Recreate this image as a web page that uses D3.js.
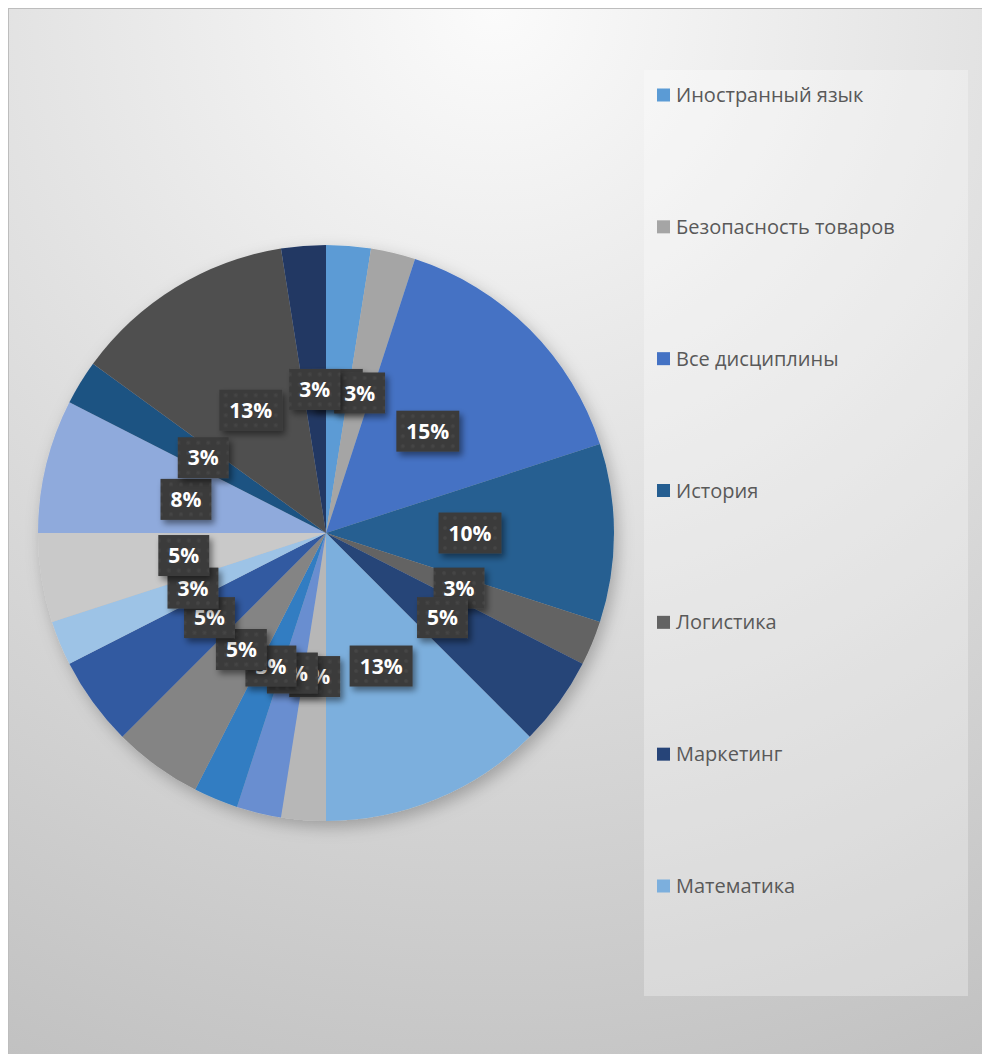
<!DOCTYPE html>
<html>
<head>
<meta charset="utf-8">
<script src="https://cdn.jsdelivr.net/npm/d3@7"></script>
<style>
  html, body { margin: 0; padding: 0; background: #fff; }
  svg { display: block; }
</style>
</head>
<body>
<div id="chart"></div>
<script>
// Disciplines (legend order = slice order, clockwise from 12 o'clock)
const disciplines = [
    "Иностранный язык", "Безопасность товаров", "Все дисциплины", "История",
    "Логистика", "Маркетинг", "Математика", "Менеджмент", "Метрология",
    "Налоги", "Обществознание", "Право", "Психология", "Русский язык",
    "Статистика", "Товароведение", "Физическая культура", "Экономика"
];
// counts per discipline (40 in total)
const counts = [1, 1, 6, 4, 1, 2, 5, 1, 1, 1, 2, 2, 1, 2, 3, 1, 5, 1];
const sliceColors = [
    "#5B9BD5", "#A5A5A5", "#4472C4", "#255E91", "#636363", "#264478",
    "#7CAFDD", "#B7B7B7", "#698ED0", "#327DC2", "#848484", "#335AA1",
    "#9DC3E6", "#C9C9C9", "#8FAADC", "#1F5282", "#505050", "#203864"
];
// only the first entries fit in the legend box
const legendShown = 7;

const width = 982, height = 1054;
const cx = 326, cy = 533, radius = 288;

const data = disciplines.map((name, i) => ({ name: name, value: counts[i], color: sliceColors[i] }));
const total = d3.sum(counts);

const svg = d3.select("#chart").append("svg")
    .attr("width", width)
    .attr("height", height);

const defs = svg.append("defs");

// background: radial, light at the top centre
const bg = defs.append("radialGradient")
    .attr("id", "bgGrad")
    .attr("gradientUnits", "userSpaceOnUse")
    .attr("cx", 495).attr("cy", 8).attr("r", 1160);
bg.append("stop").attr("offset", "0%").attr("stop-color", "#fbfbfb");
bg.append("stop").attr("offset", "100%").attr("stop-color", "#c1c1c1");

// dotted texture of the label boxes
const pat = defs.append("pattern")
    .attr("id", "dots")
    .attr("patternUnits", "userSpaceOnUse")
    .attr("width", 10).attr("height", 10);
pat.append("rect").attr("width", 10).attr("height", 10).attr("fill", "#3b3b3b");
pat.append("circle").attr("cx", 5).attr("cy", 5).attr("r", 2).attr("fill", "#444444");

const lblShadow = defs.append("filter").attr("id", "lblShadow")
    .attr("x", "-30%").attr("y", "-30%").attr("width", "170%").attr("height", "170%");
lblShadow.append("feDropShadow")
    .attr("dx", 3).attr("dy", 4).attr("stdDeviation", 3)
    .attr("flood-color", "#000").attr("flood-opacity", 0.45);

const pieShadow = defs.append("filter").attr("id", "pieShadow")
    .attr("x", "-20%").attr("y", "-20%").attr("width", "140%").attr("height", "140%");
pieShadow.append("feDropShadow")
    .attr("dx", 4).attr("dy", 6).attr("stdDeviation", 8)
    .attr("flood-color", "#000").attr("flood-opacity", 0.25);

// chart area
svg.append("rect")
    .attr("x", 8.5).attr("y", 8.5)
    .attr("width", width).attr("height", height)
    .attr("fill", "url(#bgGrad)")
    .attr("stroke", "#bdbdbd")
    .attr("stroke-width", 1);

// legend box
svg.append("rect")
    .attr("x", 644).attr("y", 70)
    .attr("width", 324).attr("height", 926)
    .attr("fill", "#ffffff")
    .attr("fill-opacity", 0.3);

// pie
const pie = d3.pie().sort(null).value(d => d.value);
const arc = d3.arc().innerRadius(0).outerRadius(radius);
const arcs = pie(data);

const g = svg.append("g").attr("transform", `translate(${cx},${cy})`);

g.append("g")
    .attr("filter", "url(#pieShadow)")
    .selectAll("path")
    .data(arcs)
    .join("path")
    .attr("d", arc)
    .attr("fill", d => d.data.color);

// labels at half radius, drawn in order so later ones cover earlier ones
const labelArc = d3.arc().innerRadius(radius * 0.5).outerRadius(radius * 0.5);
const fmt = v => Math.round(v / total * 100 + 1e-9) + "%";

const labels = g.selectAll("g.lbl")
    .data(arcs)
    .join("g")
    .attr("class", "lbl")
    .attr("transform", d => `translate(${labelArc.centroid(d)})`);

labels.each(function (d) {
    const lg = d3.select(this);
    const box = lg.append("rect").attr("fill", "url(#dots)").attr("filter", "url(#lblShadow)");
    const t = lg.append("text")
        .attr("text-anchor", "middle")
        .attr("dy", "0.36em")
        .style("font-family", "'Open Sans', 'DejaVu Sans', sans-serif")
        .style("font-weight", "bold")
        .style("font-size", "21px")
        .attr("fill", "#ffffff")
        .text(fmt(d.data.value));
    const w = t.node().getComputedTextLength() + 20;
    const h = 41;
    box.attr("x", -w / 2).attr("y", -h / 2).attr("width", w).attr("height", h);
});

// legend
const legY = d3.scalePoint()
    .domain(d3.range(legendShown))
    .range([95, 886]);

const leg = svg.append("g").selectAll("g")
    .data(data.slice(0, legendShown))
    .join("g")
    .attr("transform", (d, i) => `translate(657,${legY(i)})`);

leg.append("rect")
    .attr("x", 0).attr("y", -6.5)
    .attr("width", 13).attr("height", 13)
    .attr("fill", d => d.color);

leg.append("text")
    .attr("x", 19)
    .attr("dy", "0.35em")
    .style("font-family", "'Open Sans', sans-serif")
    .style("font-size", "20px")
    .attr("fill", "#595959")
    .text(d => d.name);
</script>
</body>
</html>
